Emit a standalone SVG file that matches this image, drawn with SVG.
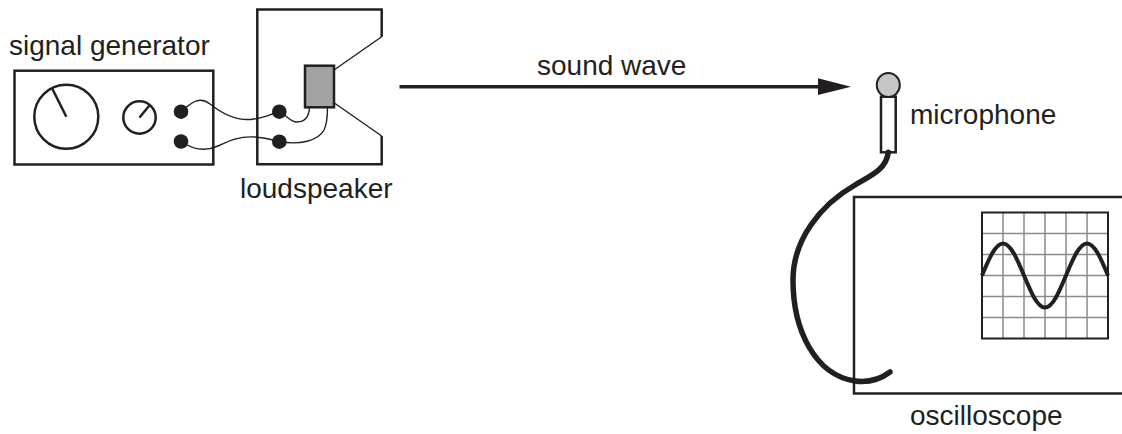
<svg xmlns="http://www.w3.org/2000/svg" width="1122" height="434" viewBox="0 0 1122 434">
<defs>
<style>
.ln{fill:none;stroke:#231f20;stroke-width:2.5}
.thin{fill:none;stroke:#231f20;stroke-width:1.4}
.wire{fill:none;stroke:#231f20;stroke-width:1.4;stroke-linecap:round}
.term{fill:#231f20}
.lbl{font-family:"Liberation Sans",Arial,Helvetica,sans-serif;font-size:28px;fill:#231f20}
.grid{stroke:#8a8a8a;stroke-width:1.5;fill:none}
</style>
<marker id="arrow" markerUnits="userSpaceOnUse" markerWidth="40" markerHeight="20" refX="4" refY="8.4" orient="auto">
<path d="M0,0 L33,8.4 L0,16.8 Z" fill="#231f20"/>
</marker>
</defs>
<rect width="1122" height="434" fill="#ffffff"/>

<g id="signal-generator">
<rect class="ln" x="14.5" y="70.7" width="198.8" height="93.8"/>
<circle class="ln" cx="66.3" cy="116.8" r="32"/>
<line class="ln" x1="66.3" y1="116.8" x2="52.3" y2="88.7"/>
<circle class="ln" cx="139.5" cy="117.5" r="16.2"/>
<line class="ln" x1="139.5" y1="117.5" x2="150" y2="104.7"/>
<circle class="term" cx="181" cy="111.7" r="7.3"/>
<circle class="term" cx="181" cy="141.5" r="7.3"/>
<text class="lbl" x="9" y="55">signal generator</text>
</g>

<g id="loudspeaker">
<path class="ln" d="M381.7,36.7 V9.5 H257.3 V164.3 H381.7 V136"/>
<path class="thin" d="M334,70 L381.7,36.7 M334,102.7 L381.7,136"/>
<rect x="305" y="65.7" width="29" height="41.6" fill="#a3a3a3" stroke="#231f20" stroke-width="2.5"/>
<circle class="term" cx="279.3" cy="111.7" r="7.3"/>
<circle class="term" cx="279.3" cy="141.7" r="7.3"/>
<text class="lbl" x="240" y="198">loudspeaker</text>
</g>

<g id="microphone">
<rect class="ln" x="881" y="96.7" width="14.7" height="55.6" fill="#ffffff" stroke-width="2"/>
<ellipse cx="888.3" cy="85" rx="11.5" ry="12" fill="#c6c6c6" stroke="#231f20" stroke-width="2"/>
<text class="lbl" x="910" y="124">microphone</text>
</g>

<g id="oscilloscope">
<path class="ln" d="M1122,197 H854 V393.5 H1122" stroke-width="2.2"/>
<g class="grid">
<path d="M1003,212.5 V338.5 M1024,212.5 V338.5 M1045,212.5 V338.5 M1066,212.5 V338.5 M1087,212.5 V338.5"/>
<path d="M982,233.5 H1108 M982,254.5 H1108 M982,275.5 H1108 M982,296.5 H1108 M982,317.5 H1108"/>
</g>
<rect x="982" y="212.5" width="126" height="126" fill="none" stroke="#231f20" stroke-width="2"/>
<path d="M982,275.5 C988.85,259.1 995.4,243.5 1003,243.5 S1017.15,259.1 1024,275.5 S1037.4,307.5 1045,307.5 S1059.15,291.9 1066,275.5 S1079.4,243.5 1087,243.5 S1101.15,259.1 1108,275.5" fill="none" stroke="#231f20" stroke-width="4"/>
<text class="lbl" x="910" y="425">oscilloscope</text>
</g>

<g id="connectors">
<path class="wire" d="M181,111.7 C192,102 200,96 210,104 S236,122 254,119 S271,113 279.3,111.7"/>
<path class="wire" d="M181,141.5 C192,149 205,152 218,146 S240,136 255,137 S272,140 279.3,141.7"/>
<path class="wire" d="M279.3,111.7 C288,116 290,122 297,122 C305,122 309,117 309.5,107.3"/>
<path class="wire" d="M279.3,141.7 C300,145 318,141 324,130 C327,124 327.5,115 327.5,107.3"/>
<line x1="399.5" y1="86.7" x2="822" y2="86.7" stroke="#231f20" stroke-width="3.5" marker-end="url(#arrow)"/>
<text class="lbl" x="537" y="75">sound wave</text>
<path d="M888.3,152.3 C886,170 870,176 855,185 C820,205 793,240 793,280 C793,330 815,375 855,381 C870,383 882,378 890,372" fill="none" stroke="#231f20" stroke-width="5.5" stroke-linecap="round"/>
</g>
</svg>
